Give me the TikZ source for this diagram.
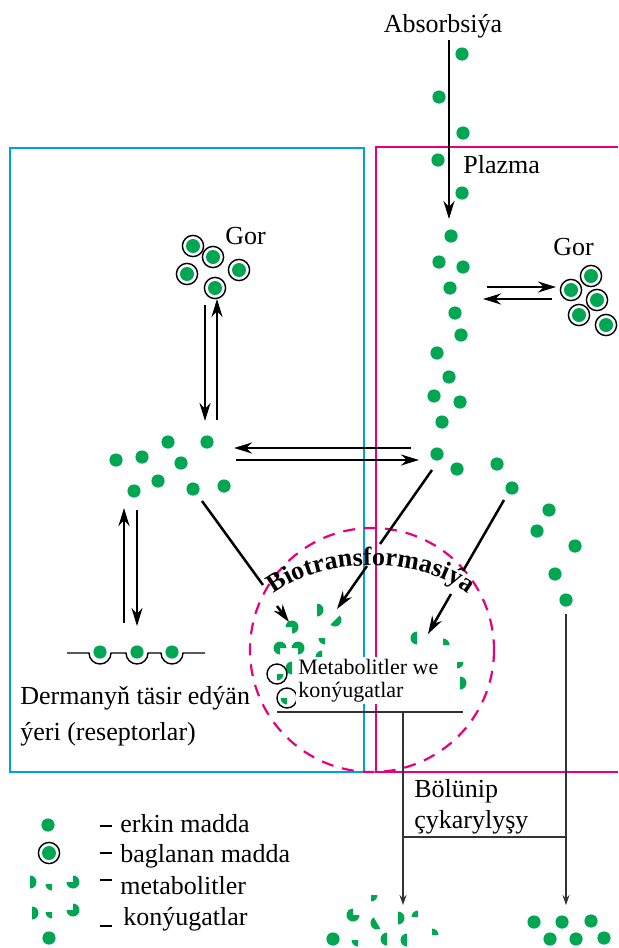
\documentclass[tikz,border=0pt]{standalone}
\usepackage{fontspec}
\setmainfont{Liberation Serif}
\usetikzlibrary{arrows.meta,decorations.text}
\definecolor{dgreen}{RGB}{0,166,81}
\definecolor{cblue}{RGB}{0,160,227}
\definecolor{cmag}{RGB}{230,0,126}
% green sector of a broken dot, angles as seen on the page
\newcommand{\piece}[4]{\fill[dgreen] (#1,#2) -- ++(-#3:6.5) arc[start angle=-#3,end angle=-#4,radius=6.5] -- cycle;}

\begin{document}
\begin{tikzpicture}[x=0.5pt,y=-0.5pt,
  dot/.style={circle,fill=dgreen,inner sep=0pt,minimum size=6.6pt},
  bound/.style={circle,draw,line width=0.7pt,fill=white,inner sep=0pt,minimum size=10.6pt,
    path picture={\fill[dgreen] (path picture bounding box.center) circle[radius=3.5pt];}},
  ring/.style={circle,draw,line width=0.7pt,inner sep=0pt,minimum size=10pt},
  lbl/.style={font=\fontsize{13}{15}\selectfont,inner sep=0pt},
  arr/.style={-{Stealth[length=9pt,width=5.5pt]},line width=1.25pt},
  guide/.style={line width=0.6pt,draw=black!80},
  garr/.style={guide,-{Stealth[length=5pt,width=3.5pt]}}]
\useasboundingbox (0,0) rectangle (618,948);

% compartments
\draw[cblue,line width=1.1pt] (10,148) rectangle (364,772);
\draw[cmag,line width=1.1pt] (618,147) -- (376,147) -- (376,772) -- (618,772);
\coordinate (bt) at (372,650);
\draw[cmag,line width=1.1pt,dash pattern=on 6pt off 4.5pt] (bt) circle[radius=122];

% texts
\node[lbl,anchor=base] (abs) at (443,32) {Absorbsiýa};
\node[lbl,anchor=base west] (plz) at (463,173) {Plazma};
\node[lbl,anchor=base west] (gorL) at (225,244) {Gor};
\node[lbl,anchor=base west] (gorR) at (553,255) {Gor};
\node[lbl,anchor=base west] (site1) at (20,704) {Dermanyň täsir edýän};
\node[lbl,anchor=base west] (site2) at (20,740) {ýeri (reseptorlar)};
\node[lbl,anchor=base west] (out1) at (414,797) {Bölünip};
\node[lbl,anchor=base west] (out2) at (414,828) {çykarylyşy};

% free drug
\foreach \x/\y [count=\i] in {462/54,439/97,463/133,438/160,462/193}
  \node[dot] (ab\i) at (\x,\y) {};
\foreach \x/\y [count=\i] in {451/236,439/262,463/267,450/288,455/313,461/335,437/353,
    449/377,434/396,460/402,442/422,437/454,457/469,497/464}
  \node[dot] (pl\i) at (\x,\y) {};
\foreach \x/\y [count=\i] in {512/488,549/510,537/531,575/546,555/574,566/600}
  \node[dot] (rc\i) at (\x,\y) {};
\foreach \x/\y [count=\i] in {116/460,142/457,168/442,207/442,181/463,158/481,134/491,193/489,224/486}
  \node[dot] (md\i) at (\x,\y) {};

% bound drug
\foreach \x/\y [count=\i] in {193/246,213/257,187/274,239/270,215/288}
  \node[bound] (gl\i) at (\x,\y) {};
\foreach \x/\y [count=\i] in {591/276,571/290,597/300,579/315,606/325}
  \node[bound] (gr\i) at (\x,\y) {};

% receptors
\draw[line width=0.7pt] (67,653) -- (89,653) arc[start angle=180,end angle=0,radius=11]
  -- (126,653) arc[start angle=180,end angle=0,radius=11]
  -- (161,653) arc[start angle=180,end angle=0,radius=11] -- (205,653);
\foreach \x [count=\i] in {100,137,172}
  \node[dot] (rs\i) at (\x,652) {};

% exchange arrows
\coordinate (a0) at (449,40);   \coordinate (a1) at (449,219);
\coordinate (gd0) at (205,305); \coordinate (gd1) at (205,421);
\coordinate (gu0) at (217,420); \coordinate (gu1) at (217,299);
\coordinate (hl0) at (411,448); \coordinate (hl1) at (234,448);
\coordinate (hr0) at (236,460); \coordinate (hr1) at (419,460);
\coordinate (rr0) at (487,287); \coordinate (rr1) at (556,287);
\coordinate (rl0) at (552,299); \coordinate (rl1) at (483,299);
\coordinate (lu0) at (124,623); \coordinate (lu1) at (124,508);
\coordinate (ld0) at (137,510); \coordinate (ld1) at (137,626);
\path
(a0) edge[arr] (a1)
(gd0) edge[arr] (gd1)
(gu0) edge[arr] (gu1)
(hl0) edge[arr] (hl1)
(hr0) edge[arr] (hr1)
(rr0) edge[arr] (rr1)
(rl0) edge[arr] (rl1)
(lu0) edge[arr] (lu1)
(ld0) edge[arr] (ld1);

% into biotransformation
\coordinate (t1a) at (202,501); \coordinate (t1b) at (263,585);
\coordinate (t1c) at (277,606); \coordinate (t1d) at (289,622);
\coordinate (t2a) at (432,470); \coordinate (t2b) at (380,544);
\coordinate (t2c) at (367,566); \coordinate (t2d) at (337,609);
\coordinate (t3a) at (504,500); \coordinate (t3b) at (463,571);
\coordinate (t3c) at (451,594); \coordinate (t3d) at (428,634);
\path
(t1a) edge[line width=1.25pt] (t1b)
(t1c) edge[arr] (t1d)
(t2a) edge[line width=1.25pt] (t2b)
(t2c) edge[arr] (t2d)
(t3a) edge[line width=1.25pt] (t3b)
(t3c) edge[arr] (t3d);

% metabolites and conjugates
\piece{317}{610}{270}{450}
\piece{335}{620}{225}{405}
\piece{292}{627}{270}{540}
\piece{325}{638}{180}{270}
\piece{280}{648}{0}{270}
\piece{298}{648}{270}{540}
\piece{322}{657}{90}{180}
\piece{292}{668}{90}{270}
\node[ring] (cj1) at (277,674) {};
\piece{277}{674}{270}{360}
\node[ring] (cj2) at (287,698) {};
\piece{287}{698}{180}{270}
\piece{417}{638}{90}{270}
\piece{443}{645}{0}{90}
\piece{457}{662}{270}{360}
\piece{460}{683}{270}{450}
\node[font=\fontsize{11}{11.5}\selectfont,fill=white,align=left,anchor=north west,inner sep=1pt]
  (met) at (296,657) {Metabolitler we\\konýugatlar};
\path[decorate,decoration={text along path,text align=center,
  text={|\bfseries\fontsize{13}{15}\selectfont|Biotransformasiýa}}]
  (264,603) .. controls (311,553) and (432,553) .. (478,603);

% elimination
\coordinate (e0) at (277,712); \coordinate (e1) at (463,712);
\coordinate (v0) at (403,712); \coordinate (v1) at (403,905);
\coordinate (w0) at (566,614); \coordinate (w1) at (566,905);
\coordinate (k0) at (403,837); \coordinate (k1) at (566,837);
\path
(e0) edge[guide] (e1)
(k0) edge[guide] (k1)
(v0) edge[garr] (v1)
(w0) edge[garr] (w1);

% excreted
\node[dot] (ex0) at (333,939) {};
\piece{371}{895}{270}{360}
\piece{353}{915}{90}{360}
\piece{377}{923}{120}{300}
\piece{398}{918}{270}{450}
\piece{418}{917}{90}{180}
\piece{358}{940}{180}{270}
\piece{387}{939}{90}{270}
\piece{407}{940}{90}{270}
\piece{432}{935}{0}{90}
\foreach \x/\y [count=\i] in {534/922,562/922,591/921,550/939,576/939,604/938}
  \node[dot] (ex\i) at (\x,\y) {};

% legend
\node[dot] (k1) at (48,825) {};
\node[bound] (k2) at (49,853) {};
\piece{30}{882}{270}{450}
\piece{52}{884}{180}{270}
\piece{73}{882}{180}{450}
\piece{32}{913}{270}{450}
\piece{52}{912}{180}{270}
\piece{73}{910}{180}{450}
\node[dot] (k3) at (49,938) {};
\foreach \y in {826,853,880,926}
  \draw[line width=1.3pt] (100,\y) -- (112,\y);
\node[lbl,anchor=base west] (kt1) at (120,832) {erkin madda};
\node[lbl,anchor=base west] (kt2) at (120,862) {baglanan madda};
\node[lbl,anchor=base west] (kt3) at (120,894) {metabolitler};
\node[lbl,anchor=base west] (kt4) at (123,925) {konýugatlar};
\end{tikzpicture}
\end{document}
